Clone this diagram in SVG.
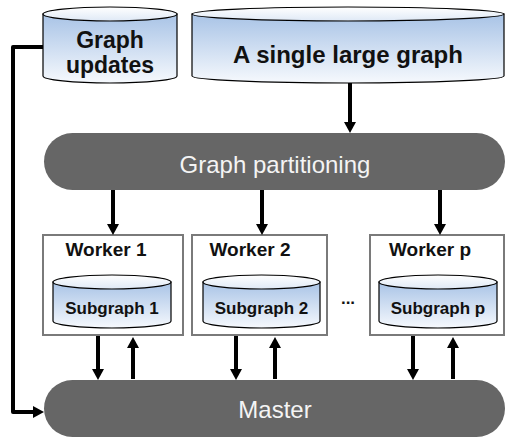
<svg xmlns="http://www.w3.org/2000/svg" width="506" height="437" viewBox="0 0 506 437">
<style>
.cyl{fill:url(#body);stroke:#000;stroke-width:1.2}
.top{fill:url(#lid);stroke:#000;stroke-width:1.2}
.pill{fill:#666666}
.ptxt{font-family:"Liberation Sans",Arial,sans-serif;font-size:24px;fill:#f4f4f4;text-anchor:middle}
.btxt{font-family:"Liberation Sans",Arial,sans-serif;font-weight:bold;fill:#111;text-anchor:middle}
.box{fill:#fff;stroke:#7a7a7a;stroke-width:2}
.arr{stroke:#000;stroke-width:4;fill:none;marker-end:url(#ah)}
</style>
<defs>
<linearGradient id="body" x1="0" y1="0" x2="0" y2="1">
<stop offset="0" stop-color="#a8c3e6"/>
<stop offset="1" stop-color="#f6f9fd"/>
</linearGradient>
<linearGradient id="lid" x1="0" y1="0" x2="0" y2="1">
<stop offset="0" stop-color="#ffffff"/>
<stop offset="1" stop-color="#dfe9f6"/>
</linearGradient>
<marker id="ah" viewBox="0 0 11 12" refX="2" refY="6" markerWidth="11" markerHeight="12" markerUnits="userSpaceOnUse" orient="auto">
<path d="M0,0 L11,6 L0,12 z" fill="#000"/>
</marker>
</defs>

<g id="graph-updates">
<path class="cyl" d="M43,14 L43,76 A67,7 0 0 0 177,76 L177,14 z"/>
<ellipse class="top" cx="110" cy="14" rx="67" ry="7"/>
<text class="btxt" x="110" y="48" font-size="23">Graph</text>
<text class="btxt" x="110" y="73" font-size="23">updates</text>
</g>

<g id="large-graph">
<path class="cyl" d="M192,14 L192,76 A156,7 0 0 0 504,76 L504,14 z"/>
<ellipse class="top" cx="348" cy="14" rx="156" ry="7"/>
<text class="btxt" x="348" y="63" font-size="24">A single large graph</text>
</g>

<g id="partitioning">
<rect class="pill" x="44" y="133" width="461" height="57" rx="28.5"/>
<text class="ptxt" x="275" y="173">Graph partitioning</text>
</g>

<g id="worker1">
<rect class="box" x="43" y="235" width="140" height="100"/>
<text class="btxt" x="106" y="256" font-size="19">Worker 1</text>
<path class="cyl" d="M53,282 L53,321 A59,7 0 0 0 171,321 L171,282 z"/>
<ellipse class="top" cx="112" cy="282" rx="59" ry="7"/>
<text class="btxt" x="112" y="314" font-size="17">Subgraph 1</text>
</g>

<g id="worker2">
<rect class="box" x="192" y="235" width="135" height="100"/>
<text class="btxt" x="250" y="256" font-size="19">Worker 2</text>
<path class="cyl" d="M203,282 L203,321 A58.5,7 0 0 0 320,321 L320,282 z"/>
<ellipse class="top" cx="261.5" cy="282" rx="58.5" ry="7"/>
<text class="btxt" x="261.5" y="314" font-size="17">Subgraph 2</text>
</g>

<g id="dots">
<text class="btxt" x="348" y="304" font-size="17">...</text>
</g>

<g id="workerp">
<rect class="box" x="370" y="235" width="134" height="100"/>
<text class="btxt" x="430" y="256" font-size="19">Worker p</text>
<path class="cyl" d="M379,282 L379,321 A59,7 0 0 0 497,321 L497,282 z"/>
<ellipse class="top" cx="438" cy="282" rx="59" ry="7"/>
<text class="btxt" x="438" y="314" font-size="17">Subgraph p</text>
</g>

<g id="master">
<rect class="pill" x="44" y="380" width="461" height="57" rx="28.5"/>
<text class="ptxt" x="275" y="418">Master</text>
</g>

<g id="connectors">
<line class="arr" x1="350" y1="83" x2="350" y2="124"/>
<line class="arr" x1="113" y1="190" x2="113" y2="226"/>
<line class="arr" x1="262" y1="190" x2="262" y2="226"/>
<line class="arr" x1="440" y1="190" x2="440" y2="226"/>
<line class="arr" x1="98" y1="336" x2="98" y2="371"/>
<line class="arr" x1="133" y1="379" x2="133" y2="346"/>
<line class="arr" x1="236" y1="336" x2="236" y2="371"/>
<line class="arr" x1="275" y1="379" x2="275" y2="346"/>
<line class="arr" x1="413" y1="336" x2="413" y2="371"/>
<line class="arr" x1="453" y1="379" x2="453" y2="346"/>
<polyline class="arr" points="43,47 13,47 13,412 35,412" stroke-linejoin="round"/>
</g>
</svg>
